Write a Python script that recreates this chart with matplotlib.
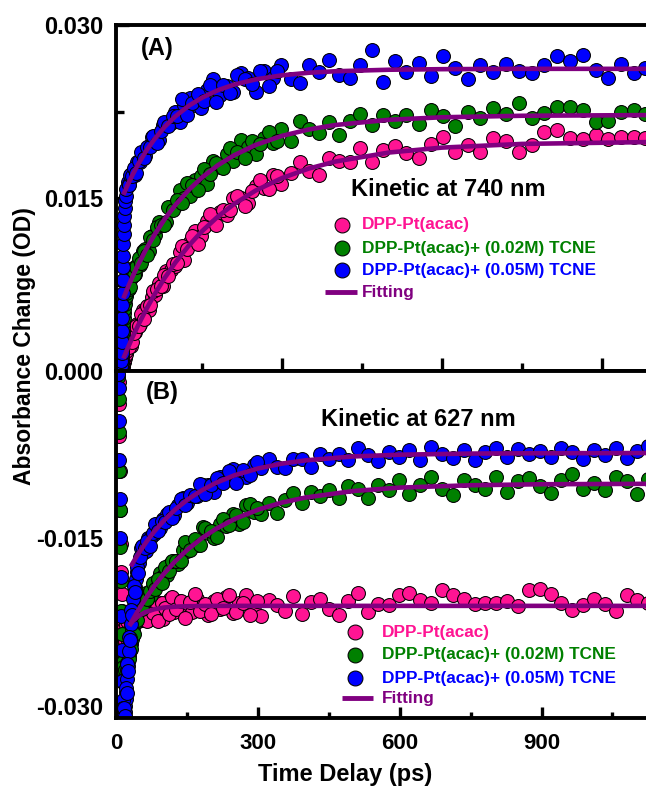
import numpy as np
import matplotlib
matplotlib.use("Agg")
import matplotlib.pyplot as plt
from matplotlib.ticker import FixedLocator, FormatStrFormatter

plt.rcParams['font.family'] = ['Liberation Sans', 'DejaVu Sans']
plt.rcParams['font.weight'] = 'bold'

PINK = '#FF1493'
GREEN = '#008000'
BLUE = '#0000FF'
PURPLE = '#800080'

LABELS = ['DPP-Pt(acac)', 'DPP-Pt(acac)+ (0.02M) TCNE',
          'DPP-Pt(acac)+ (0.05M) TCNE', 'Fitting']

# ---------------- (A) kinetic at 740 nm, values in mOD ----------------
t_a = [-3, -2, -1, -0.5, 0, 0.3, 0.6, 0.9, 1.2, 1.5, 1.8, 2.1, 2.5, 3, 3.5, 4, 5, 6, 7, 8,
       11, 14, 17, 21, 25, 29, 34, 39, 44, 50, 56, 62, 69, 76, 83, 91, 99, 108, 117, 127,
       137, 148, 159, 171, 183, 196, 209, 223, 237, 252, 267, 283, 299, 316, 333, 351, 369,
       388, 407, 427, 447, 468, 489, 511, 533, 556, 579, 602, 625, 648, 672, 696, 720, 744,
       768, 792, 816, 840, 864, 888, 912, 936, 960, 980]

blue_a = [0.1, 0.4, 0.9, 1.6, 2.5, 3.5, 4.6, 5.7, 6.8, 7.9, 9.0, 10.0, 11.0, 11.9, 12.7,
          13.4, 14.1, 14.7, 15.2, 15.8,
          16.4, 16.2, 17.1, 17.2, 17.0, 18.1, 18.1, 19.0, 18.6, 19.5,
          20.3, 20.0, 20.0, 21.3, 21.3, 21.5, 22.5, 21.6, 23.1, 23.7,
          23.1, 22.8, 24.4, 25.3, 23.9, 24.7, 24.2, 25.8, 25.4, 24.2,
          26.0, 25.4, 26.5, 25.3, 25.0, 26.5, 25.9, 27.0, 25.7, 25.4,
          26.5, 27.8, 25.1, 26.9, 25.9, 26.7, 25.6, 27.3, 26.3, 25.3,
          26.5, 25.9, 26.6, 26.0, 25.8, 26.5, 27.3, 26.9, 27.4, 26.1, 25.4, 26.6, 25.8, 26.3]

green_a = [0.0, 0.2, 0.4, 0.7, 1.0, 1.4, 1.8, 2.2, 2.6, 3.0, 3.4, 3.8, 4.2, 4.6, 5.0,
           5.4, 5.8, 6.2, 6.5, 6.8,
           7.1, 7.1, 8.1, 8.9, 8.4, 9.2, 9.2, 10.4, 10.6, 10.4,
           11.7, 11.8, 12.9, 12.7, 12.9, 14.2, 14.3, 15.7, 15.0, 15.2,
           16.6, 16.9, 16.2, 18.2, 17.7, 18.8, 18.2, 20.0, 19.4, 18.8,
           20.2, 19.8, 21.0, 19.9, 21.7, 21.0, 20.6, 21.6, 20.5, 21.7,
           22.3, 21.3, 22.2, 21.7, 22.2, 21.4, 22.6, 22.1, 21.2, 22.5,
           21.9, 22.8, 22.3, 23.2, 21.9, 22.4, 22.9, 22.9, 22.6, 21.6, 21.7, 22.5, 22.6, 22.3]

pink_a = [0.0, 0.0, 0.1, 0.1, 0.2, 0.2, 0.3, 0.3, 0.4, 0.4, 0.5, 0.6, 0.7, 0.8, 0.9,
          1.0, 1.1, 1.3, 1.5, 1.7,
          2.2, 2.4, 2.2, 3.4, 3.4, 4.1, 4.1, 5.3, 5.3, 5.3,
          6.4, 6.6, 7.6, 7.4, 8.7, 8.8, 9.1, 10.3, 9.6, 11.2,
          12.1, 11.7, 13.0, 13.0, 13.8, 13.5, 15.0, 15.0, 14.6, 16.0,
          15.9, 17.0, 16.2, 17.2, 18.1, 17.3, 17.0, 18.5, 18.2, 18.1,
          19.3, 18.1, 19.2, 19.5, 18.9, 18.5, 19.7, 20.3, 19.0, 19.6,
          19.0, 20.2, 19.9, 19.0, 19.6, 20.7, 20.9, 20.2, 20.1, 20.5, 20.1, 20.3, 20.3, 20.2]

# second, interleaved scan of the first 300 ps
t_a2 = [12.5, 15.5, 19, 23, 27, 31.5, 36.5, 41.5, 47, 53, 59, 65.5, 72.5, 79.5, 87, 95,
        103.5, 112.5, 122, 132, 142.5, 153.5, 165, 177, 189.5, 202.5, 216, 230, 244.5,
        259.5, 275, 291]
blue_a2 = [16.1, 17.0, 16.9, 17.6, 17.2, 18.2, 19.0, 18.5, 19.4, 19.4, 20.4, 19.8, 20.8,
           21.6, 21.2, 22.1, 22.1, 23.6, 22.2, 23.2, 24.0, 23.4, 24.8, 23.3, 24.8, 24.1,
           25.7, 25.3, 24.9, 26.0, 24.7, 26.0]
green_a2 = [7.7, 7.3, 8.5, 8.3, 9.0, 9.8, 9.4, 10.4, 10.1, 11.6, 11.4, 12.5, 12.7, 12.7,
            14.2, 14.0, 14.8, 14.6, 16.3, 16.1, 15.7, 17.5, 17.1, 18.0, 17.6, 19.3, 19.0,
            18.5, 19.9, 19.7, 20.7, 19.9]
pink_a2 = [2.1, 3.0, 2.5, 3.3, 3.9, 3.9, 4.9, 4.5, 5.6, 5.7, 6.9, 7.1, 7.4, 8.3, 8.2, 9.3,
           9.4, 10.8, 10.6, 11.7, 11.0, 12.5, 13.6, 12.7, 14.0, 14.0, 15.2, 14.3, 15.6,
           16.6, 15.8, 16.9]

fit_a_t = [2.5, 10, 20, 30, 45, 60, 80, 100, 125, 150, 180, 210, 250, 300, 350, 400,
           500, 600, 750, 990]
fit_a_blue = [15.28, 16.07, 17.03, 17.90, 19.06, 20.05, 21.17, 22.08, 22.99, 23.70, 24.35,
              24.83, 25.28, 25.64, 25.86, 25.99, 26.12, 26.17, 26.20, 26.20]
fit_a_green = [6.29, 7.14, 8.20, 9.19, 10.54, 11.75, 13.17, 14.39, 15.69, 16.78, 17.85,
               18.70, 19.59, 20.39, 20.94, 21.33, 21.78, 22.00, 22.13, 22.19]
fit_a_pink = [1.08, 1.91, 2.96, 3.94, 5.31, 6.56, 8.07, 9.40, 10.86, 12.12, 13.40, 14.47,
              15.63, 16.73, 17.55, 18.16, 18.94, 19.37, 19.69, 19.85]

# ---------------- (B) kinetic at 627 nm, values in mOD ----------------
t_b = [3, 4, 5, 6, 7, 8, 9, 10, 11, 12, 13, 14, 15, 16, 17, 18, 19, 20, 22, 24, 26, 28,
       30, 32, 35, 38, 41, 44, 48,
       52, 57, 62, 67, 73, 79, 85, 92, 99, 106, 114, 122, 131, 140, 150, 160, 171, 182,
       194, 206, 219, 232, 246, 260, 275, 290, 306, 322, 339, 356, 374, 392, 411, 430,
       450, 470, 490, 511, 532, 554, 576, 598, 620, 643, 666, 689, 712, 735, 758, 781,
       804, 827, 850, 873, 896, 919, 942, 965, 988, 1011, 1034, 1057, 1080, 1103, 1126]

blue_b = [-0.3, -1.5, -4.5, -8.0, -11.5, -15.0, -18.5, -22.0, -25.0, -27.8, -29.8, -30.8,
          -31.3, -31.0, -30.6, -30.0, -29.4, -28.8, -27.6, -26.4, -25.1, -23.9, -22.7,
          -21.6, -20.4, -19.4, -18.6, -18.0, -17.2,
          -15.9, -16.2, -16.1, -15.0, -14.9, -14.6, -13.7, -14.1, -13.3, -12.8,
          -12.9, -12.9, -12.0, -11.4, -11.8, -11.2, -11.2, -10.2, -10.2, -10.8,
          -9.5, -9.7, -8.8, -9.5, -9.5, -8.4, -8.7, -7.9, -8.6, -8.7,
          -7.9, -7.9, -8.6, -7.4, -7.9, -7.4, -8.0, -6.9, -7.5, -8.1,
          -7.3, -7.7, -7.1, -8.0, -6.8, -7.4, -7.8, -7.1, -8.0, -7.3,
          -6.9, -7.7, -7.0, -7.4, -7.2, -7.7, -6.9, -7.3, -7.9, -7.1,
          -7.5, -6.9, -7.8, -7.2, -6.7]

green_b = [-0.5, -2.5, -5.5, -9.0, -12.5, -15.8, -18.8, -21.5, -23.6, -25.2, -26.4, -27.2,
           -27.6, -27.6, -27.4, -27.2, -27.0, -26.8, -26.4, -26.0, -25.5, -25.0, -24.5,
           -24.0, -23.3, -22.6, -22.0, -21.5, -21.0,
           -20.7, -20.7, -19.9, -20.3, -20.1, -19.0, -19.0, -18.1, -18.4, -18.3,
           -17.3, -17.0, -17.3, -16.0, -16.1, -15.4, -15.6, -14.0, -14.5, -15.0,
           -13.7, -13.9, -12.8, -13.7, -12.0, -12.6, -12.8, -11.8, -12.7, -11.6,
           -10.9, -11.8, -10.8, -11.2, -10.7, -11.4, -10.3, -10.6, -11.4, -10.2,
           -10.7, -9.8, -11.0, -10.2, -9.5, -10.6, -11.1, -9.8, -10.2, -10.6,
           -9.5, -10.8, -9.9, -9.6, -10.3, -10.9, -9.8, -9.2, -10.6, -10.0,
           -10.7, -9.5, -9.9, -11.0, -9.7]

pink_b = [0.2, -1.0, -3.0, -5.8, -9.0, -12.5, -15.5, -18.0, -20.0, -21.5, -22.5, -23.2,
          -23.6, -23.8, -23.8, -23.7, -23.5, -22.9, -23.4, -22.6, -23.0, -22.2, -22.7,
          -21.8, -22.3, -21.6, -22.1, -21.4, -21.5,
          -21.5, -22.0, -20.9, -22.3, -20.4, -21.4, -21.9, -20.8, -22.2, -21.0,
          -20.4, -21.6, -20.6, -21.2, -20.8, -21.6, -20.4, -21.0, -21.9, -20.6,
          -21.3, -20.3, -21.7, -20.8, -20.1, -21.4, -22.0, -20.5, -21.0, -21.5,
          -20.2, -21.8, -20.7, -20.4, -21.3, -21.9, -20.6, -19.9, -21.6, -20.9,
          -21.0, -20.1, -19.9, -20.5, -20.8, -19.6, -20.1, -20.4, -20.9, -20.8,
          -20.8, -20.6, -21.1, -19.6, -19.5, -20.0, -20.8, -21.4, -21.0, -20.4,
          -20.9, -21.5, -20.1, -20.5, -20.8]

# second, interleaved scan of the first 300 ps
t_b2 = [12.5, 13.5, 14.5, 15.5, 16.5, 17.5, 19.5, 21, 23, 25, 27, 29, 31, 33.5, 36.5,
        39.5, 42.5, 46,
        50, 54.5, 59.5, 64.5, 70, 76, 82, 88.5, 95.5, 102.5, 110, 118, 126.5, 135.5, 145,
        155, 165.5, 176.5, 188, 200, 212.5, 225.5, 239, 253, 267.5, 282.5, 298]
blue_b2 = [-29.5, -30.9, -30.2, -31.5, -30.2, -30.9, -28.4, -28.9, -26.3, -26.9, -23.8,
           -24.1, -21.4, -21.9, -19.3, -19.8, -17.6, -18.1,
           -16.7, -15.7, -15.9, -15.2, -15.7, -14.5, -13.7, -14.3, -13.4, -13.5, -12.6,
           -13.2, -12.3, -11.5, -12.0, -11.1, -11.2, -10.1, -11.0, -10.2, -9.6, -10.0,
           -9.0, -10.0, -8.9, -9.3, -8.2]
green_b2 = [-26.1, -26.5, -27.9, -27.0, -28.0, -26.8, -27.5, -26.2, -26.8, -25.3, -25.8,
            -24.3, -24.9, -23.2, -23.6, -22.0, -22.3, -20.8,
            -20.9, -21.3, -20.2, -20.4, -19.7, -19.0, -19.5, -18.6, -19.0, -17.6, -17.9,
            -17.0, -17.0, -17.0, -15.3, -16.0, -15.1, -15.6, -14.1, -14.3, -14.9, -13.3,
            -13.8, -12.9, -13.5, -11.9, -12.3]
pink_b2 = [-22.3, -23.4, -22.8, -24.1, -23.0, -24.2, -22.8, -23.9, -22.4, -23.5, -22.0,
           -23.2, -21.6, -22.9, -21.4, -22.6, -21.2, -22.4,
           -21.2, -22.3, -20.6, -22.4, -21.3, -21.7, -20.6, -22.4, -20.8, -21.2, -21.8,
           -20.3, -21.3, -20.6, -22.1, -20.7, -20.0, -21.5, -20.9, -21.8, -20.4, -21.2,
           -20.1, -21.6, -20.8, -21.9, -20.6]

fit_b_t_blue = [30, 40, 50, 65, 80, 100, 125, 150, 180, 210, 250, 300, 350, 400, 500, 600,
                750, 900, 1130]
fit_b_blue = [-17.52, -16.79, -16.12, -15.20, -14.37, -13.41, -12.38, -11.53, -10.70,
              -10.03, -9.34, -8.73, -8.30, -8.01, -7.66, -7.50, -7.40, -7.37, -7.35]
fit_b_t = [27, 35, 45, 60, 80, 100, 125, 150, 180, 210, 250, 300, 350, 400, 500, 600,
           750, 900, 1130]
fit_b_green = [-22.85, -22.23, -21.50, -20.48, -19.26, -18.18, -17.01, -16.01, -15.00,
               -14.16, -13.26, -12.42, -11.79, -11.34, -10.76, -10.45, -10.24, -10.15, -10.11]
fit_b_pink = [-22.80, -22.39, -22.01, -21.63, -21.35, -21.20, -21.12, -21.08, -21.06,
              -21.05, -21.05, -21.05, -21.05, -21.05, -21.05, -21.05, -21.05, -21.05, -21.05]

MOD = 1e-3  # mOD -> OD

W, H = 646, 791
fig = plt.figure(figsize=(W / 100, H / 100), dpi=100)


def rect(left, top, right, bottom):
    return [left / W, 1 - bottom / H, (right - left) / W, (bottom - top) / H]


ax_a = fig.add_axes(rect(116, 25, 646, 371))
ax_b = fig.add_axes(rect(116, 371, 646, 718))

SCAT = dict(s=100, edgecolors='black', linewidths=0.75)
FIT = dict(color=PURPLE, lw=3.3, solid_capstyle='butt', solid_joinstyle='round', zorder=2.3)


def draw_panel(ax, scans, fits):
    # scans: list of (times, values, colour) drawn pink -> green -> blue
    for z, (t, vals, col) in enumerate(scans):
        ax.scatter(np.asarray(t, float), np.asarray(vals) * MOD, color=col,
                   zorder=2.0 + 0.01 * z, **SCAT)
    for ft, fv in fits:
        ax.plot(ft, np.asarray(fv) * MOD, **FIT)


draw_panel(ax_a,
           [(t_a + t_a2, pink_a + pink_a2, PINK),
            (t_a + t_a2, green_a + green_a2, GREEN),
            (t_a + t_a2, blue_a + blue_a2, BLUE)],
           [(fit_a_t, fit_a_pink), (fit_a_t, fit_a_green), (fit_a_t, fit_a_blue)])
draw_panel(ax_b,
           [(t_b + t_b2, pink_b + pink_b2, PINK),
            (t_b + t_b2, green_b + green_b2, GREEN),
            (t_b + t_b2, blue_b + blue_b2, BLUE)],
           [(fit_b_t, fit_b_pink), (fit_b_t, fit_b_green), (fit_b_t_blue, fit_b_blue)])

ax_a.set_xlim(-11.25, 982.5)
ax_a.set_ylim(0.0, 0.030)
ax_b.set_xlim(-1.3, 1121)
ax_b.set_ylim(-0.0311, 0.0)

SPINE_W = 2.8
for ax in (ax_a, ax_b):
    ax.spines['right'].set_visible(False)
    for side in ('left', 'top', 'bottom'):
        ax.spines[side].set_linewidth(SPINE_W)
    ax.xaxis.set_major_locator(FixedLocator([0, 300, 600, 900]))
    ax.xaxis.set_minor_locator(FixedLocator([150, 450, 750, 1050]))

# top panel: crossing ticks on the shared zero line, no x labels
ax_a.tick_params(axis='x', which='major', direction='inout', length=19, width=2.4,
                 labelbottom=False, top=False)
ax_a.tick_params(axis='x', which='minor', direction='inout', length=11, width=2.4, top=False)
ax_a.yaxis.set_major_locator(FixedLocator([0.0, 0.015, 0.030]))
ax_a.yaxis.set_minor_locator(FixedLocator([0.0075, 0.0225]))
ax_a.yaxis.set_major_formatter(FormatStrFormatter('%.3f'))
ax_a.tick_params(axis='y', which='major', direction='in', length=9, width=2.4,
                 labelsize=17, pad=9, right=False)
ax_a.tick_params(axis='y', which='minor', direction='in', length=6, width=2.4, right=False)

# bottom panel
ax_b.tick_params(axis='x', which='major', direction='in', length=8, width=2.4,
                 labelsize=16, pad=11, top=False)
ax_b.tick_params(axis='x', which='minor', direction='in', length=4, width=2.4, top=False)
ax_b.yaxis.set_major_locator(FixedLocator([-0.030, -0.015]))
ax_b.yaxis.set_minor_locator(FixedLocator([-0.0225, -0.0075]))
ax_b.yaxis.set_major_formatter(FormatStrFormatter('%.3f'))
ax_b.tick_params(axis='y', which='major', direction='in', length=8, width=2.4,
                 labelsize=17, pad=9, right=False)
ax_b.tick_params(axis='y', which='minor', direction='in', length=5, width=2.4, right=False)

# annotation layer in pixel coordinates
ov = fig.add_axes([0, 0, 1, 1])
ov.set_xlim(0, W)
ov.set_ylim(H, 0)
ov.axis('off')

ov.text(345, 775, 'Time Delay (ps)', ha='center', va='center', fontsize=17)
ov.text(25, 346, 'Absorbance Change (OD)', ha='center', va='center', fontsize=16.5,
        rotation=90)
ov.text(157, 49, '(A)', ha='center', va='center', fontsize=17)
ov.text(162, 393, '(B)', ha='center', va='center', fontsize=17)
ov.text(448, 190, 'Kinetic at 740 nm', ha='center', va='center', fontsize=17)
ov.text(418, 420, 'Kinetic at 627 nm', ha='center', va='center', fontsize=17)


def legend_block(x_mark, rows, x_text, line_x0, line_x1):
    cols = [PINK, GREEN, BLUE]
    for y, col, lab in zip(rows[:3], cols, LABELS[:3]):
        ov.scatter([x_mark], [y], s=115, color=col, edgecolors='black', linewidths=0.75)
        ov.text(x_text, y, lab, color=col, ha='left', va='center', fontsize=12.4)
    ov.plot([line_x0, line_x1], [rows[3], rows[3]], color=PURPLE, lw=3.5,
            solid_capstyle='butt')
    ov.text(x_text, rows[3], LABELS[3], color=PURPLE, ha='left', va='center',
            fontsize=12.4)


legend_block(342, [225, 248, 270, 292], 362, 325, 357)
legend_block(355, [632, 655, 678, 698], 382, 342, 373)

fig.savefig('out.png', dpi=100)
